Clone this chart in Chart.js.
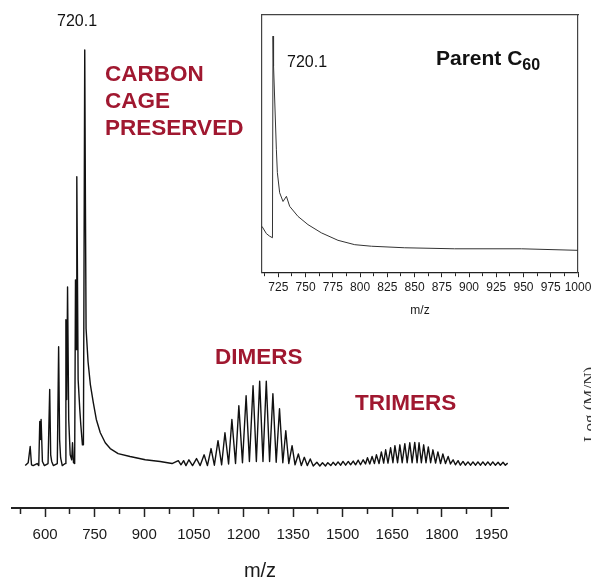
<!DOCTYPE html>
<html>
<head>
<meta charset="utf-8">
<script src="https://cdn.jsdelivr.net/npm/chart.js@4.4.1/dist/chart.umd.min.js"></script>
<style>
  html, body { margin: 0; padding: 0; width: 591px; height: 580px; overflow: hidden; background: #fff; }
  #stage { position: relative; width: 591px; height: 580px; overflow: hidden; }
  #main { position: absolute; left: 0; top: 0; width: 591px; height: 584px; }
  #inset { position: absolute; left: 250px; top: 0; width: 360px; height: 330px; }
  .lbl { position: absolute; white-space: nowrap; line-height: 1; color: #111; }
  .num { font-family: "Liberation Sans", Arial, sans-serif; font-size: 16px; }
  .cluster { position: absolute; white-space: nowrap; font: bold 22.5px "Liberation Sans", Arial, sans-serif;
             line-height: 27px; color: #a01830; }
  .parent { font: bold 21px "Liberation Sans", Arial, sans-serif; }
  .parent sub { font-size: 16px; vertical-align: baseline; position: relative; top: 5px; }
  .side { position: absolute; left: 581px; top: 442px; transform: rotate(-90deg); transform-origin: left top;
          font: 17px "Liberation Serif", "Times New Roman", serif; line-height: 1; color: #333; white-space: nowrap; }
</style>
</head>
<body>
<div id="stage">
  <div id="main"><canvas id="spectrum"></canvas></div>
  <div id="inset"><canvas id="parent"></canvas></div>

  <div class="lbl num" style="left:57px; top:13px;">720.1</div>
  <div class="cluster" style="left:105px; top:60px;">CARBON<br>CAGE<br>PRESERVED</div>
  <div class="cluster" style="left:215px; top:343px;">DIMERS</div>
  <div class="cluster" style="left:355px; top:389px;">TRIMERS</div>

  <div class="lbl num" style="left:287px; top:54px;">720.1</div>
  <div class="lbl parent" style="left:436px; top:46px;">Parent C<sub>60</sub></div>

  <div class="side">Log (M/N)</div>
</div>

<script>
// full scan: [m/z, relative intensity]
const monomerTrace = [
  [540, 0], [549, 0.7], [555, 4.6], [559, 0.2], [564, 0], [576, 0.5], [581, 0],
  [584, 10.6], [586, 6.3], [588, 11.1], [592, 1.0], [598, 0],
  [609, 0.5], [614, 18.3], [617, 2.6], [620, 1.0], [625, 0],
  [637, 0.5], [641, 28.6], [644, 6.3], [647, 1.9], [652, 0],
  [661, 0.5], [663, 35.1], [665.5, 15.9], [668, 43.0], [671.5, 11.1], [676, 2.6], [680.5, 1.4], [683, 5.5], [686, 0.7],
  [689.5, 0.5], [692, 44.7], [694, 27.9], [696, 69.5], [700, 20.7], [705, 13.5], [708, 9.9], [713, 5.0], [716, 5.0],
  [720, 100], [722, 64], [724, 33], [730, 25.0], [737, 19.5], [746, 15.1], [755, 11.1], [767, 7.9],
  [782, 5.5], [797, 4.1], [821, 2.9], [857, 2.2], [903, 1.4], [948, 1.0], [984, 0.5]
]

const dimerTrace = [
  [1003, 1.2], [1011, 0.2], [1019, 1.2], [1026, 0], [1035, 1.4], [1046, 0], [1058, 1.7], [1069, 0],
  [1081, 2.6], [1091, 0], [1102, 4.1], [1112, 0.1], [1123, 6.0], [1134, 0.2], [1144, 7.9], [1155, 0.4],
  [1165, 11.1], [1176, 0.5], [1186, 14.4], [1197, 0.7], [1208, 16.8], [1218, 1.0], [1229, 19.2], [1239, 1.0],
  [1249, 20.3], [1259, 1.0], [1269, 20.3], [1279, 1.0], [1289, 17.3], [1299, 0.8], [1309, 13.7], [1319, 0.7],
  [1328, 8.4], [1337, 0.5], [1347, 4.8], [1356, 0.2], [1366, 2.8], [1375, 0], [1384, 2.0], [1393, 0],
  [1402, 1.6], [1411, -0.1], [1422, 0.8], [1431, -0.1], [1439, 0.7], [1448, -0.1], [1455, 0.7], [1464, 0]
]

const trimerTrace = [
  [1471, 0.8], [1479, 0.1], [1486, 0.9], [1494, 0.1], [1501, 1.0], [1509, 0.1], [1517, 1.0], [1524, 0.2],
  [1532, 1.1], [1539, 0.2], [1547, 1.3], [1554, 0.2], [1562, 1.4], [1569, 0.4], [1575, 1.9], [1582, 0.4],
  [1589, 2.2], [1596, 0.5], [1602, 2.6], [1610, 0.5], [1617, 3.3], [1624, 0.6], [1630, 3.8], [1637, 0.6],
  [1645, 4.3], [1652, 0.7], [1658, 4.8], [1666, 0.7], [1673, 5.0], [1680, 0.7], [1688, 5.3], [1695, 0.7],
  [1703, 5.5], [1710, 0.7], [1718, 5.6], [1725, 0.7], [1731, 5.5], [1738, 0.7], [1745, 5.0], [1752, 0.7],
  [1759, 4.5], [1766, 0.7], [1773, 3.8], [1781, 0.6], [1788, 3.3], [1796, 0.5], [1803, 2.8], [1811, 0.5],
  [1819, 2.2], [1826, 0.4], [1834, 1.4], [1841, 0.2], [1849, 1.2], [1856, 0.1], [1864, 1.0], [1871, 0.1],
  [1879, 0.9], [1887, 0.1], [1894, 0.9], [1902, 0.1], [1909, 0.9], [1917, 0.1], [1924, 0.9], [1932, 0.1],
  [1939, 0.9], [1947, 0.1], [1954, 0.9], [1962, 0.1], [1970, 0.8], [1977, 0.1], [1985, 0.8], [1992, 0.1], [1999, 0.6]
]

// zoomed parent-ion region (log scale, arbitrary units)
const parentTrace = [
  [710, 17.8], [714, 15.0], [717, 14.0], [719.6, 13.4], [720.1, 91.8], [720.6, 80.2], [723.2, 47.6],
  [724.1, 38.7], [726.2, 30.9], [729.3, 27.5], [732.4, 29.5], [735.4, 25.6], [743, 21.7], [752.2, 18.5],
  [764.5, 15.3], [779.7, 12.4], [795.1, 10.7], [810.4, 10.1], [841, 9.5], [886.8, 9.1], [948, 9.1], [1000, 8.5]
]

const mainTicks = [525, 600, 675, 750, 825, 900, 975, 1050, 1125, 1200, 1275, 1350, 1425, 1500, 1575, 1650, 1725, 1800, 1875, 1950]
const mainLabels = [600, 750, 900, 1050, 1200, 1350, 1500, 1650, 1800, 1950]
const insetTicks = [712.5, 725, 737.5, 750, 762.5, 775, 787.5, 800, 812.5, 825, 837.5, 850, 862.5, 875, 887.5, 900,
  912.5, 925, 937.5, 950, 962.5, 975, 987.5, 1000]
const insetLabels = [725, 750, 775, 800, 825, 850, 875, 900, 925, 950, 975, 1000]

const SANS = '"Liberation Sans", Arial, sans-serif'

const toPoints = rows => rows.map(([x, y]) => ({ x, y }))

function mzAxis(min, max, ticks, labels, o) {
  return {
    type: 'linear',
    position: 'bottom',
    min, max,
    afterBuildTicks: axis => { axis.ticks = ticks.map(value => ({ value })) },
    ticks: {
      autoSkip: false, maxRotation: 0, padding: o.pad, color: '#1a1a1a',
      font: { family: SANS, size: o.size, lineHeight: 1.2 },
      callback: v => labels.includes(v) ? String(v) : '',
    },
    grid: {
      display: true, drawOnChartArea: false, drawTicks: true,
      tickLength: o.major, tickWidth: o.tickWidth, tickColor: '#222',
      // unlabelled ticks are drawn shorter
      tickBorderDash: ctx => (ctx.tick && labels.includes(ctx.tick.value)) ? [] : [o.minor, 40],
    },
    border: { display: true, color: '#222', width: o.axisWidth },
    title: {
      display: true, text: 'm/z', color: '#1a1a1a',
      font: { family: SANS, size: o.titleSize, lineHeight: 1.2 },
      padding: { top: o.titleGap, bottom: 0 },
    },
  }
}

const frame = (position) => ({
  position, min: 0, max: 100,
  ticks: { display: false },
  grid: { display: false, drawTicks: false },
  border: { display: true, color: '#444', width: 1.2 },
})

new Chart(document.getElementById('spectrum'), {
  type: 'line',
  data: {
    datasets: [{
      data: toPoints([...monomerTrace, ...dimerTrace, ...trimerTrace]),
      borderColor: '#111', borderWidth: 1.4, borderJoinStyle: 'round',
      pointRadius: 0, tension: 0, fill: false, clip: 6,
    }],
  },
  options: {
    animation: false, responsive: true, maintainAspectRatio: false,
    layout: { padding: { left: 12, right: 83, top: 50, bottom: 1 } },
    plugins: { legend: { display: false }, tooltip: { enabled: false } },
    scales: {
      x: mzAxis(500, 2000, mainTicks, mainLabels,
        { pad: 9, size: 15, major: 9, minor: 5, tickWidth: 1.5, axisWidth: 2, titleSize: 20, titleGap: 6 }),
      y: { display: false, min: -10.2, max: 100 },
    },
  },
})

new Chart(document.getElementById('parent'), {
  type: 'line',
  data: {
    datasets: [{
      data: toPoints(parentTrace),
      borderColor: '#333', borderWidth: 1, borderJoinStyle: 'round',
      pointRadius: 0, tension: 0, fill: false, clip: 4,
    }],
  },
  options: {
    animation: false, responsive: true, maintainAspectRatio: false,
    layout: { padding: { left: 12, right: 32, top: 15, bottom: 12 } },
    plugins: { legend: { display: false }, tooltip: { enabled: false } },
    scales: {
      x: mzAxis(710, 1000, insetTicks, insetLabels,
        { pad: 3, size: 12, major: 5, minor: 3, tickWidth: 1, axisWidth: 1.2, titleSize: 12, titleGap: 6 }),
      xTop: { type: 'linear', ...frame('top'), min: 710, max: 1000 },
      y: frame('left'),
      yRight: frame('right'),
    },
  },
})
</script>
</body>
</html>
